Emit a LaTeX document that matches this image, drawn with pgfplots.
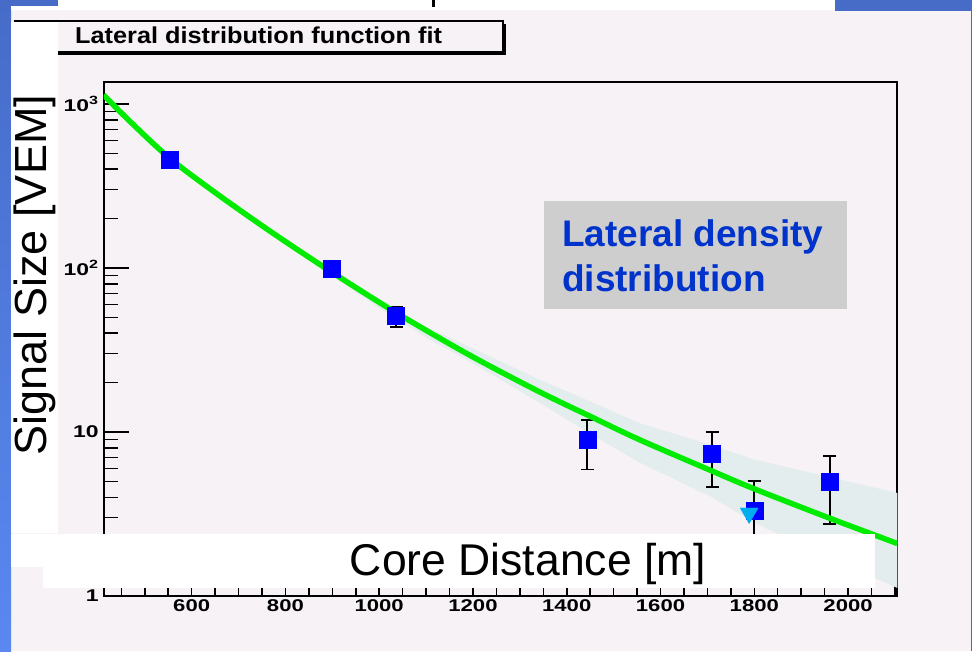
\documentclass[border=0pt]{standalone}
\usepackage{fontspec}
\setmainfont{Liberation Sans}
\usepackage{pgfplots}
\pgfplotsset{compat=1.18}
\definecolor{bgpink}{RGB}{246,242,246}
\definecolor{slideblue}{RGB}{70,108,200}
\definecolor{slideblueb}{RGB}{90,136,240}
\definecolor{fitgreen}{RGB}{0,235,0}
\definecolor{bandcol}{RGB}{228,237,237}
\definecolor{boxgray}{RGB}{206,206,206}
\definecolor{txtblue}{RGB}{0,51,204}
\begin{document}
\begin{tikzpicture}
\fill[bgpink] (0pt,0pt) rectangle (972pt,651pt);
\shade[top color=slideblue, bottom color=slideblueb] (0pt,0pt) rectangle (11pt,651pt);
\fill[slideblue] (0pt,645pt) rectangle (58pt,651pt);
\fill[white] (11pt,641pt) rectangle (58pt,645pt);
\fill[white] (58pt,641pt) rectangle (835pt,651pt);
\fill[black] (432pt,644pt) rectangle (435pt,651pt);
\fill[slideblue] (835pt,640pt) rectangle (972pt,651pt);
\fill[slideblue] (970.5pt,0pt) rectangle (972pt,640pt);
% title box
\fill[black] (18pt,596pt) rectangle (506pt,627pt);
\filldraw[fill=bgpink, draw=black, line width=1.2pt] (15pt,599pt) rectangle (503pt,630pt);
\node[anchor=base west, inner sep=0pt, font=\bfseries\fontsize{23}{23}\selectfont, xscale=1.1] at (75pt,607.7pt) {Lateral distribution function fit};
\fill[white] (11pt,118pt) rectangle (58pt,629pt);
\begin{axis}[
  at={(103.5pt,55pt)}, anchor=south west,
  scale only axis, width=793.8pt, height=513.5pt,
  xmin=412, xmax=2105,
  ymode=log, ymin=1, ymax=1352,
  axis line style={line width=2pt, black},
  tick pos=left, tick align=inside,
  xtick={600,800,1000,1200,1400,1600,1800,2000},
  xticklabels={600,800,1000,1200,1400,1600,1800,2000},
  minor xtick={450,500,...,2100},
  ytick={1,10,100,1000},
  yticklabels={1,10,10\textsuperscript{2},10\textsuperscript{3}},
  minor ytick={2,3,4,5,6,7,8,9,20,30,40,50,60,70,80,90,200,300,400,500,600,700,800,900},
  major tick length=26pt, minor tick length=15pt,
  tick style={black, line width=1.5pt},
  ticklabel style={font=\bfseries\fontsize{17}{17}\selectfont, text=black},
  xticklabel style={xscale=1.3},
  yticklabel style={xscale=1.35},
]
% fit uncertainty band
\addplot[fill=bandcol, draw=none] coordinates {
 (850,117.3) (1000,62.2) (1100,43.9) (1200,32.3) (1343,20.8) (1449,15.4) (1556,11.3) (1710,8.3) (1800,6.8) (1961,5.3) (2105,4.25)
 (2105,1.12) (1961,1.7) (1800,2.8) (1710,4.0) (1556,6.5) (1449,9.8) (1343,15.0) (1200,26.2) (1100,37.7) (1000,56.8) (850,112.7)
};
% data with error bars
\addplot[only marks, mark=square*, mark size=8.5pt,
  mark options={draw=blue, fill=blue, line width=0.4pt},
  error bars/.cd, y dir=both, y explicit,
  error bar style={black, line width=1.8pt},
  error mark options={rotate=90, black, mark size=6.5pt, line width=1.8pt}]
coordinates {
 (1036,51) += (0,7.2) -= (0,7.4)
 (1444,9.0) += (0,2.8) -= (0,3.1)
 (1710,7.34) += (0,2.62) -= (0,2.7)
 (1800,3.30) += (0,1.75) -= (0,1.8)
 (1961,4.98) += (0,2.19) -= (0,2.24)
};
\addplot[only marks, mark=square*, mark size=8.5pt,
  mark options={draw=blue, fill=blue, line width=0.4pt}]
coordinates {(554,456) (899,98.6)};
\addplot[only marks, mark=triangle*, mark size=10.4pt,
  mark options={rotate=180, draw=cyan, fill=cyan}]
coordinates {(1789,3.2)};
% LDF fit
\addplot[fitgreen, line width=5.5pt, smooth] coordinates {
 (412,1135) (468,785) (554,464.5) (660,275) (774,162.6) (899,94.2) (1037,53.2) (1193,29.4)
 (1343,17.5) (1449,12.5) (1556,8.95) (1710,5.78) (1800,4.5) (1961,2.98) (2105,2.09)
};
\end{axis}
\node[rotate=90, inner sep=0pt, font=\fontsize{45}{45}\selectfont] at (35pt,376pt) {Signal Size [VEM]};
\fill[white] (11pt,84pt) rectangle (875pt,117pt);
\fill[white] (43pt,63pt) rectangle (875pt,84pt);
\node[anchor=base, inner sep=0pt, font=\fontsize{44.5}{44.5}\selectfont] at (528pt,76pt) {Core Distance [m]};
\fill[boxgray] (544pt,342pt) rectangle (847pt,450pt);
\node[anchor=base west, inner sep=0pt, text=txtblue, font=\bfseries\fontsize{37}{37}\selectfont] at (562pt,404.3pt) {Lateral density};
\node[anchor=base west, inner sep=0pt, text=txtblue, font=\bfseries\fontsize{37}{37}\selectfont] at (562pt,359.3pt) {distribution};
\pgfresetboundingbox
\path[use as bounding box] (0pt,0pt) rectangle (972pt,651pt);
\end{tikzpicture}
\end{document}
